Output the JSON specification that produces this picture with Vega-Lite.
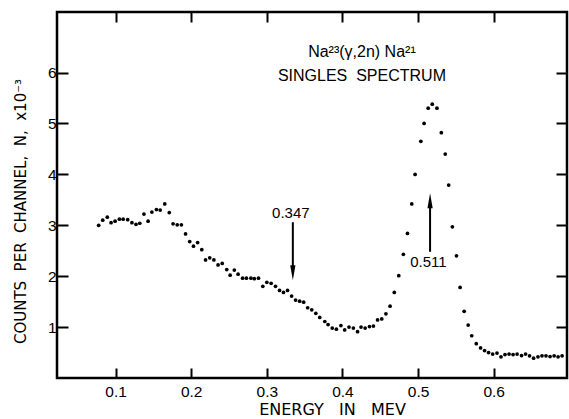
{
  "$schema": "https://vega.github.io/schema/vega-lite/v6.json",
  "width": 510,
  "height": 366,
  "autosize": "none",
  "padding": {"left": 57, "top": 12, "right": 2, "bottom": 41},
  "background": "white",
  "config": {
    "view": {"stroke": "black", "strokeWidth": 2.5},
    "font": "Liberation Sans",
    "axis": {"grid": false, "domain": false, "tickColor": "black", "tickWidth": 2, "labelColor": "black", "titleColor": "black", "labelFont": "Liberation Sans", "titleFont": "DejaVu Sans", "labelFontSize": 15.5, "titleFontSize": 15.5, "titleFontWeight": "normal"}
  },
  "datasets": {
    "spectrum": [
      {"energy": 0.0776, "counts": 3.00}, {"energy": 0.083, "counts": 3.10}, {"energy": 0.089, "counts": 3.16},
      {"energy": 0.094, "counts": 3.05}, {"energy": 0.0993, "counts": 3.08}, {"energy": 0.105, "counts": 3.12},
      {"energy": 0.110, "counts": 3.12}, {"energy": 0.116, "counts": 3.11}, {"energy": 0.1216, "counts": 3.05},
      {"energy": 0.127, "counts": 3.02}, {"energy": 0.132, "counts": 3.04}, {"energy": 0.1375, "counts": 3.22},
      {"energy": 0.143, "counts": 3.08}, {"energy": 0.148, "counts": 3.26}, {"energy": 0.154, "counts": 3.31},
      {"energy": 0.159, "counts": 3.30}, {"energy": 0.165, "counts": 3.42}, {"energy": 0.171, "counts": 3.25},
      {"energy": 0.176, "counts": 3.03}, {"energy": 0.1815, "counts": 3.01}, {"energy": 0.187, "counts": 3.01},
      {"energy": 0.1925, "counts": 2.83}, {"energy": 0.198, "counts": 2.68}, {"energy": 0.203, "counts": 2.59},
      {"energy": 0.2085, "counts": 2.66}, {"energy": 0.214, "counts": 2.52}, {"energy": 0.219, "counts": 2.32},
      {"energy": 0.2245, "counts": 2.36}, {"energy": 0.230, "counts": 2.32}, {"energy": 0.2355, "counts": 2.22},
      {"energy": 0.241, "counts": 2.25}, {"energy": 0.247, "counts": 2.13}, {"energy": 0.2515, "counts": 2.02},
      {"energy": 0.257, "counts": 2.12}, {"energy": 0.262, "counts": 2.04}, {"energy": 0.268, "counts": 1.96},
      {"energy": 0.273, "counts": 1.96}, {"energy": 0.279, "counts": 1.96}, {"energy": 0.2835, "counts": 1.95},
      {"energy": 0.289, "counts": 1.96}, {"energy": 0.2947, "counts": 1.80}, {"energy": 0.300, "counts": 1.88},
      {"energy": 0.3057, "counts": 1.86}, {"energy": 0.3115, "counts": 1.80}, {"energy": 0.3168, "counts": 1.72},
      {"energy": 0.322, "counts": 1.68}, {"energy": 0.3274, "counts": 1.72}, {"energy": 0.3328, "counts": 1.61},
      {"energy": 0.338, "counts": 1.53}, {"energy": 0.3434, "counts": 1.51}, {"energy": 0.3487, "counts": 1.49},
      {"energy": 0.354, "counts": 1.38}, {"energy": 0.3594, "counts": 1.34}, {"energy": 0.3648, "counts": 1.27},
      {"energy": 0.370, "counts": 1.19}, {"energy": 0.3767, "counts": 1.11}, {"energy": 0.381, "counts": 1.05},
      {"energy": 0.3865, "counts": 0.98}, {"energy": 0.392, "counts": 0.96}, {"energy": 0.398, "counts": 1.03},
      {"energy": 0.403, "counts": 0.945}, {"energy": 0.4087, "counts": 1.00}, {"energy": 0.4145, "counts": 0.98},
      {"energy": 0.420, "counts": 0.91}, {"energy": 0.4246, "counts": 1.00}, {"energy": 0.430, "counts": 0.98},
      {"energy": 0.4358, "counts": 1.01}, {"energy": 0.441, "counts": 1.02}, {"energy": 0.4465, "counts": 1.14},
      {"energy": 0.452, "counts": 1.16}, {"energy": 0.4575, "counts": 1.26}, {"energy": 0.463, "counts": 1.41},
      {"energy": 0.4686, "counts": 1.68}, {"energy": 0.4745, "counts": 2.01}, {"energy": 0.4806, "counts": 2.43},
      {"energy": 0.486, "counts": 2.84}, {"energy": 0.4917, "counts": 3.42}, {"energy": 0.4961, "counts": 4.00},
      {"energy": 0.5037, "counts": 4.65}, {"energy": 0.508, "counts": 5.00}, {"energy": 0.5134, "counts": 5.30},
      {"energy": 0.5188, "counts": 5.38}, {"energy": 0.525, "counts": 5.30}, {"energy": 0.5308, "counts": 4.82},
      {"energy": 0.536, "counts": 4.40}, {"energy": 0.5405, "counts": 3.79}, {"energy": 0.5454, "counts": 2.97},
      {"energy": 0.5508, "counts": 2.40}, {"energy": 0.5556, "counts": 1.78}, {"energy": 0.561, "counts": 1.31},
      {"energy": 0.5663, "counts": 1.04}, {"energy": 0.571, "counts": 0.83}, {"energy": 0.577, "counts": 0.675},
      {"energy": 0.5827, "counts": 0.59}, {"energy": 0.588, "counts": 0.54}, {"energy": 0.5933, "counts": 0.50},
      {"energy": 0.5987, "counts": 0.47}, {"energy": 0.6044, "counts": 0.49}, {"energy": 0.6097, "counts": 0.415},
      {"energy": 0.615, "counts": 0.46}, {"energy": 0.6204, "counts": 0.47}, {"energy": 0.6257, "counts": 0.46},
      {"energy": 0.631, "counts": 0.47}, {"energy": 0.6369, "counts": 0.44}, {"energy": 0.6422, "counts": 0.47},
      {"energy": 0.6475, "counts": 0.435}, {"energy": 0.6528, "counts": 0.39}, {"energy": 0.6586, "counts": 0.415},
      {"energy": 0.6639, "counts": 0.435}, {"energy": 0.6692, "counts": 0.435}, {"energy": 0.6746, "counts": 0.42},
      {"energy": 0.68, "counts": 0.435}, {"energy": 0.6852, "counts": 0.415}, {"energy": 0.6905, "counts": 0.435}
    ],
    "labels": [
      {"energy": 0.4258, "counts": 6.41, "label": "Na²³(γ,2n) Na²¹"},
      {"energy": 0.4258, "counts": 5.93, "label": "SINGLES\u00a0\u00a0SPECTRUM"},
      {"energy": 0.3318, "counts": 3.25, "label": "0.347"},
      {"energy": 0.5138, "counts": 2.27, "label": "0.511"}
    ],
    "shafts": [
      {"energy": 0.3344, "counts": 3.06, "counts2": 2.12},
      {"energy": 0.5159, "counts": 2.48, "counts2": 3.43}
    ],
    "downheads": [{"energy": 0.3344, "counts": 2.07}],
    "upheads": [{"energy": 0.5159, "counts": 3.48}]
  },
  "layer": [
    {
      "data": {"name": "spectrum"},
      "mark": {"type": "circle", "color": "black", "size": 14, "opacity": 1},
      "encoding": {
        "x": {"field": "energy", "type": "quantitative", "scale": {"domain": [0.0225, 0.697], "nice": false, "zero": false},
          "axis": {"orient": "bottom", "values": [0.1, 0.2, 0.3, 0.4, 0.5, 0.6], "format": ".1f", "tickSize": -10, "labelPadding": 16,
            "title": "ENERGY\u00a0\u00a0\u00a0IN\u00a0\u00a0\u00a0MEV", "titleFontSize": 16, "titleX": 275, "titleY": 31, "titleBaseline": "middle", "titleAlign": "center"}},
        "y": {"field": "counts", "type": "quantitative", "scale": {"domain": [0, 7.19], "nice": false, "zero": false},
          "axis": {"orient": "left", "values": [1, 2, 3, 4, 5, 6], "format": "d", "tickSize": -11, "labelPadding": 12,
            "title": "COUNTS\u00a0\u00a0PER\u00a0\u00a0CHANNEL,\u00a0\u00a0N,\u00a0\u00a0x10⁻³", "titleFontSize": 15, "titleX": -37, "titleY": 199, "titleBaseline": "middle", "titleAlign": "center", "titleAngle": -90}}
      }
    },
    {
      "data": {"name": "labels"},
      "mark": {"type": "text", "font": "Liberation Sans", "fontSize": 15, "color": "black", "align": "center", "baseline": "middle"},
      "encoding": {
        "x": {"field": "energy", "type": "quantitative", "axis": {"orient": "top", "values": [0.1, 0.2, 0.3, 0.4, 0.5, 0.6], "labels": false, "title": null, "tickSize": -10}},
        "y": {"field": "counts", "type": "quantitative", "axis": {"orient": "right", "values": [1, 2, 3, 4, 5, 6], "labels": false, "title": null, "tickSize": -11}},
        "text": {"field": "label"},
        "size": {"condition": {"test": "datum.label == '0.347' || datum.label == '0.511'", "value": 15}, "value": 16}
      }
    },
    {
      "data": {"name": "shafts"},
      "mark": {"type": "rule", "color": "black", "strokeWidth": 2},
      "encoding": {
        "x": {"field": "energy", "type": "quantitative", "axis": null},
        "y": {"field": "counts", "type": "quantitative", "axis": null},
        "y2": {"field": "counts2"}
      }
    },
    {
      "data": {"name": "downheads"},
      "mark": {"type": "point", "shape": "M -0.35 -1 L 0.35 -1 L 0 1 Z", "filled": true, "color": "black", "size": 225, "opacity": 1},
      "encoding": {
        "x": {"field": "energy", "type": "quantitative", "axis": null},
        "y": {"field": "counts", "type": "quantitative", "axis": null}
      }
    },
    {
      "data": {"name": "upheads"},
      "mark": {"type": "point", "shape": "M -0.35 1 L 0.35 1 L 0 -1 Z", "filled": true, "color": "black", "size": 225, "opacity": 1},
      "encoding": {
        "x": {"field": "energy", "type": "quantitative", "axis": null},
        "y": {"field": "counts", "type": "quantitative", "axis": null}
      }
    }
  ],
  "resolve": {"axis": {"x": "independent", "y": "independent"}}
}
